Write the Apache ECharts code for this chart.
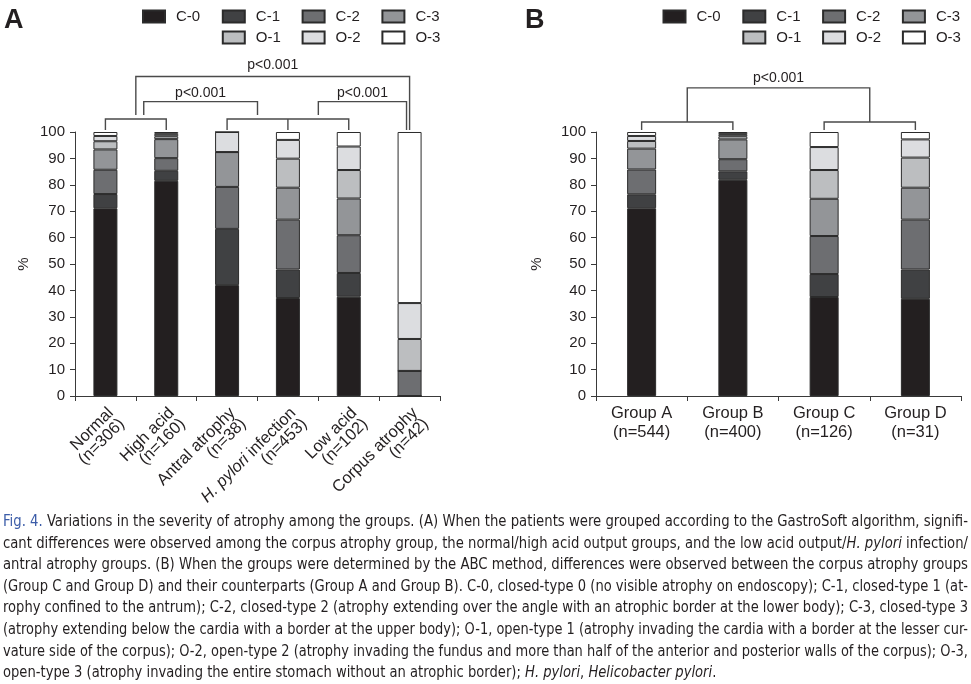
<!DOCTYPE html>
<html>
<head>
<meta charset="utf-8">
<script src="https://cdn.jsdelivr.net/npm/echarts@6/dist/echarts.min.js"></script>
<style>
  html, body { margin: 0; padding: 0; background: #fff; overflow: hidden; }
  #chart { position: absolute; left: 0; top: 0; width: 971px; height: 684px; }
  #caption { position: absolute; left: 3px; top: 511px; width: 965px; z-index: 2;
    font-family: "Liberation Sans Narrow", "DejaVu Sans Condensed", "Roboto", "Liberation Sans", sans-serif;
    font-size: 15px; line-height: 21.6px; color: #231f20; }
  #caption .ln { display: block; height: 21.6px; white-space: nowrap; }
  #caption .ln span { display: inline-block; transform-origin: 0 50%; white-space: nowrap; }
  #caption .fig { color: #3b5ca8; font-weight: normal; }
</style>
</head>
<body>
<div id="chart"></div>
<div id="caption"></div>
<script>
// ---------- data ----------
const seriesNames = ['C-0', 'C-1', 'C-2', 'C-3', 'O-1', 'O-2', 'O-3'];
const seriesColors = ['#231f20', '#404143', '#6d6e71', '#939598', '#bcbec0', '#dcdde0', '#ffffff'];

const groupsA = ['Normal', 'High acid', 'Antral atrophy', 'H. pylori infection', 'Low acid', 'Corpus atrophy'];
const nA = [306, 160, 38, 453, 102, 42];
const a_C0 = [71.1, 81.5, 42.0, 37.1, 37.6, 0];
const a_C1 = [5.4, 3.8, 21.3, 10.8, 9.0, 0];
const a_C2 = [9.2, 4.8, 15.9, 18.9, 14.3, 9.5];
const a_C3 = [7.7, 7.2, 13.2, 12.1, 13.9, 0];
const a_O1 = [3.1, 1.1, 0, 11.0, 10.8, 12.1];
const a_O2 = [2.0, 0.9, 7.6, 7.1, 8.9, 13.6];
const a_O3 = [1.5, 0.7, 0, 3.0, 5.5, 64.8];

const groupsB = ['Group A', 'Group B', 'Group C', 'Group D'];
const nB = [544, 400, 126, 31];
const b_C0 = [71.1, 81.9, 37.5, 36.8];
const b_C1 = [5.3, 3.2, 8.7, 11.1];
const b_C2 = [9.4, 4.6, 14.4, 18.9];
const b_C3 = [7.9, 7.5, 14.1, 12.1];
const b_O1 = [2.9, 1.2, 10.9, 11.4];
const b_O2 = [1.9, 0.8, 8.7, 6.9];
const b_O3 = [1.5, 0.8, 5.7, 2.8];

const yTicks = { min: 0, max: 100, interval: 10 };
const pText = 'p<0.001';

// significance brackets, in data units: [category position, % value]
const bracketsA = {
  lines: [
    [[0, 100.8], [0, 104.9], [1, 104.9], [1, 100.8]],
    [[2, 100.8], [2, 104.9], [4, 104.9], [4, 100.8]],
    [[3, 104.9], [3, 100.8]],
    [[0.5, 106.4], [0.5, 121.0], [5, 121.0], [5, 100.8]],
    [[0.63, 106.4], [0.63, 111.5], [2.5, 111.5], [2.5, 106.4]],
    [[3.5, 106.4], [3.5, 111.5], [4.95, 111.5], [4.95, 100.8]]
  ],
  labels: [[2.75, 125.4], [1.565, 114.8], [4.225, 114.8]]
};
const bracketsB = {
  lines: [
    [[0, 100.8], [0, 103.8], [1, 103.8], [1, 100.8]],
    [[2, 100.8], [2, 103.8], [3, 103.8], [3, 100.8]],
    [[0.5, 103.8], [0.5, 116.7], [2.5, 116.7], [2.5, 103.8]]
  ],
  labels: [[1.5, 120.5]]
};

// ---------- chart ----------
const FONT = '"Liberation Sans", Arial, Helvetica, sans-serif';
const TXT = '#231f20';
const AX = '#3a3a3a';

const dataA = [a_C0, a_C1, a_C2, a_C3, a_O1, a_O2, a_O3];
const dataB = [b_C0, b_C1, b_C2, b_C3, b_O1, b_O2, b_O3];

const series = [];
seriesNames.forEach((name, k) => {
  series.push({
    name, type: 'bar', stack: 'A', xAxisIndex: 0, yAxisIndex: 0, barWidth: 24,
    data: dataA[k],
    itemStyle: { color: seriesColors[k], borderColor: '#2b2b2b', borderWidth: 1 }
  });
});
seriesNames.forEach((name, k) => {
  series.push({
    name, type: 'bar', stack: 'B', xAxisIndex: 1, yAxisIndex: 1, barWidth: 29,
    data: dataB[k],
    itemStyle: { color: seriesColors[k], borderColor: '#2b2b2b', borderWidth: 1 }
  });
});

const legendCols = [0, 1, 2, 3, 1, 2, 3];
const legendRows = [0, 0, 0, 0, 1, 1, 1];
const legends = [];
[142, 662.5].forEach(x0 => {
  seriesNames.forEach((name, k) => {
    legends.push({
      data: [name], left: x0 + legendCols[k] * 79.8, top: legendRows[k] ? 30 : 9,
      itemWidth: 22, itemHeight: 12, padding: 0, itemGap: 0, icon: 'rect',
      selectedMode: false,
      textStyle: { fontSize: 15, color: TXT, fontFamily: FONT, padding: [0, 0, 0, 6] }
    });
  });
});

function yAxisCfg(gridIndex, gap) {
  return {
    type: 'value', gridIndex, min: yTicks.min, max: yTicks.max, interval: yTicks.interval,
    name: '%', nameLocation: 'middle', nameGap: gap, nameRotate: 90,
    nameTextStyle: { fontSize: 15, color: TXT, fontFamily: FONT },
    axisLine: { show: true, lineStyle: { color: AX, width: 1 } },
    axisTick: { show: true, length: 5, lineStyle: { color: AX } },
    axisLabel: { fontSize: 15, color: TXT, fontFamily: FONT, margin: 10 },
    splitLine: { show: false }
  };
}

const option = {
  animation: false,
  backgroundColor: '#ffffff',
  title: [
    { text: 'A', left: 4, top: 7, padding: 0, textStyle: { fontSize: 27, fontWeight: 'bold', color: TXT, fontFamily: FONT } },
    { text: 'B', left: 525, top: 7, padding: 0, textStyle: { fontSize: 27, fontWeight: 'bold', color: TXT, fontFamily: FONT } }
  ],
  legend: legends,
  grid: [
    { left: 75, top: 132, width: 365, height: 264 },
    { left: 596, top: 132, width: 365, height: 264 }
  ],
  xAxis: [
    {
      type: 'category', gridIndex: 0, data: groupsA,
      axisLine: { lineStyle: { color: AX, width: 1 } },
      axisTick: { show: true, length: 5, lineStyle: { color: AX } },
      axisLabel: {
        interval: 0, rotate: 45, margin: 9, verticalAlign: 'top',
        color: TXT, fontFamily: FONT, fontSize: 16.5, lineHeight: 15.5,
        formatter: (v, i) => {
          const first = v.indexOf('H. pylori') === 0
            ? '{it|H. pylori}{r|' + v.slice(9) + '}'
            : '{r|' + v + '}';
          return first + '\n{r|(n=' + nA[i] + ')}';
        },
        rich: {
          r: { fontSize: 16.5, lineHeight: 15.5, color: TXT, fontFamily: FONT },
          it: { fontSize: 16.5, lineHeight: 15.5, color: TXT, fontFamily: FONT, fontStyle: 'italic' }
        }
      }
    },
    {
      type: 'category', gridIndex: 1, data: groupsB,
      axisLine: { lineStyle: { color: AX, width: 1 } },
      axisTick: { show: true, length: 5, lineStyle: { color: AX } },
      axisLabel: {
        interval: 0, margin: 8, color: TXT, fontFamily: FONT, fontSize: 16.5, lineHeight: 19,
        formatter: (v, i) => v + '\n(n=' + nB[i] + ')'
      }
    }
  ],
  yAxis: [yAxisCfg(0, 44), yAxisCfg(1, 52)],
  series
};

const chart = echarts.init(document.getElementById('chart'), null, { renderer: 'canvas' });
chart.setOption(option);

function toPx(g, catPos, val) {
  const i = Math.floor(catPos + 1e-9);
  const f = catPos - i;
  const p0 = chart.convertToPixel({ gridIndex: g }, [i, val]);
  if (f < 1e-9) return p0;
  const p1 = chart.convertToPixel({ gridIndex: g }, [i + 1, val]);
  return [p0[0] + f * (p1[0] - p0[0]), p0[1]];
}

const graphics = [];
[[0, bracketsA], [1, bracketsB]].forEach(([g, br]) => {
  br.lines.forEach(pts => {
    graphics.push({
      type: 'polyline', silent: true,
      shape: { points: pts.map(p => toPx(g, p[0], p[1])) },
      style: { stroke: '#4a4a4a', lineWidth: 1.4, fill: null }
    });
  });
  br.labels.forEach(p => {
    const xy = toPx(g, p[0], p[1]);
    graphics.push({
      type: 'text', silent: true, x: xy[0], y: xy[1],
      style: { text: pText, fill: TXT, font: '14px ' + FONT, textAlign: 'center', textVerticalAlign: 'middle' }
    });
  });
});
chart.setOption({ graphic: graphics });

// ---------- caption ----------
const captionLines = [
  '<span class="fig">Fig. 4.</span> Variations in the severity of atrophy among the groups. (A) When the patients were grouped according to the GastroSoft algorithm, signifi-',
  'cant differences were observed among the corpus atrophy group, the normal/high acid output groups, and the low acid output/<i>H. pylori</i> infection/',
  'antral atrophy groups. (B) When the groups were determined by the ABC method, differences were observed between the corpus atrophy groups',
  '(Group C and Group D) and their counterparts (Group A and Group B). C-0, closed-type 0 (no visible atrophy on endoscopy); C-1, closed-type 1 (at-',
  'rophy confined to the antrum); C-2, closed-type 2 (atrophy extending over the angle with an atrophic border at the lower body); C-3, closed-type 3',
  '(atrophy extending below the cardia with a border at the upper body); O-1, open-type 1 (atrophy invading the cardia with a border at the lesser cur-',
  'vature side of the corpus); O-2, open-type 2 (atrophy invading the fundus and more than half of the anterior and posterior walls of the corpus); O-3,',
  'open-type 3 (atrophy invading the entire stomach without an atrophic border); <i>H. pylori</i>, <i>Helicobacter pylori</i>.'
];
const cap = document.getElementById('caption');
const spans = captionLines.map(html => {
  const d = document.createElement('div');
  d.className = 'ln';
  const s = document.createElement('span');
  s.innerHTML = html;
  d.appendChild(s);
  cap.appendChild(d);
  return s;
});
const targetW = 965;
const scales = [];
spans.forEach((s, idx) => {
  if (idx === spans.length - 1) return;
  const w = s.getBoundingClientRect().width;
  const k = targetW / w;
  scales.push(k);
  s.style.transform = 'scaleX(' + k + ')';
});
const avgK = scales.reduce((a, b) => a + b, 0) / scales.length;
spans[spans.length - 1].style.transform = 'scaleX(' + avgK + ')';
</script>
</body>
</html>
